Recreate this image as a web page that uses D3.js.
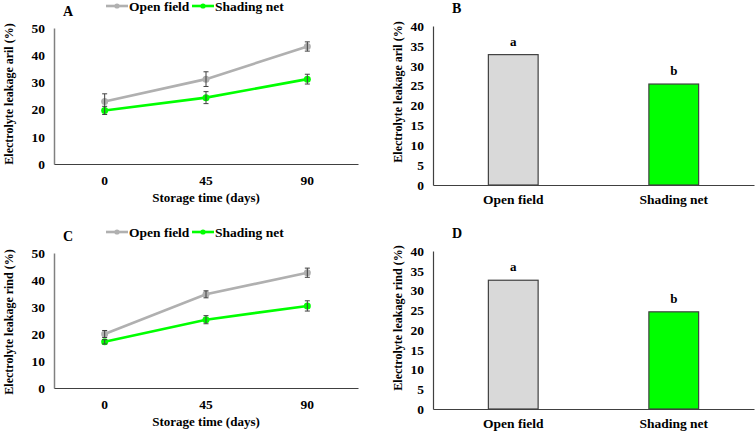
<!DOCTYPE html>
<html><head><meta charset="utf-8">
<script src="https://cdn.jsdelivr.net/npm/d3@7"></script>
<style>body{margin:0;background:#fff}svg{display:block}text{font-family:"Liberation Serif","Times New Roman",serif;font-weight:bold;fill:#000}</style>
</head><body>
<svg id="c" width="755" height="433"></svg>
<script>
// ---- data ----
const days = ["0", "45", "90"];
const seriesNames = ["Open field", "Shading net"];
const arilOpen = [23.0, 31.2, 43.2];
const arilOpenErr = [2.8, 2.7, 1.7];
const arilShade = [19.7, 24.4, 31.2];
const arilShadeErr = [1.5, 2.2, 1.8];
const rindOpen = [20.0, 34.7, 42.7];
const rindOpenErr = [1.3, 1.3, 1.7];
const rindShade = [17.1, 25.3, 30.4];
const rindShadeErr = [0.8, 1.5, 1.9];
const barCats = ["Open field", "Shading net"];
const arilMeans = [32.8, 25.4];
const rindMeans = [32.6, 24.6];
const barLetters = ["a", "b"];
const lineTicks = [0, 10, 20, 30, 40, 50];
const barTicks = [0, 5, 10, 15, 20, 25, 30, 35, 40];

const colors = ["#b0b0b0", "#00ff00"];
const barFills = ["#d9d9d9", "#00ff00"];
const svg = d3.select("#c");
const TF = "13.5px";

function styleTicks(sel) {
  sel.selectAll("text").style("font-size", TF).style("font-family", "Liberation Serif").style("font-weight", "bold");
}

function linePanel(cfg) {
  const g = svg.append("g");
  const x = d3.scaleBand().domain(days).range([cfg.x0, cfg.x1]);
  const y = d3.scaleLinear().domain([0, 50]).range([cfg.yb, cfg.yt]);
  const ya = g.append("g").attr("transform", `translate(${cfg.x0},0)`)
    .call(d3.axisLeft(y).tickValues(lineTicks).tickSize(0).tickPadding(9));
  ya.select(".domain").attr("stroke", "#808080").attr("stroke-width", 1.5);
  styleTicks(ya);
  const xa = g.append("g").attr("transform", `translate(0,${cfg.yb})`)
    .call(d3.axisBottom(x).tickSize(0).tickPadding(11));
  xa.select(".domain").attr("stroke", "#404040").attr("stroke-width", 1.2);
  styleTicks(xa);
  g.append("text").attr("x", (cfg.x0 + cfg.x1) / 2).attr("y", cfg.yb + 38)
    .attr("text-anchor", "middle").style("font-size", "13px").text("Storage time (days)");
  g.append("text").attr("transform", `translate(13,${cfg.ytc}) rotate(-90)`)
    .attr("text-anchor", "middle").style("font-size", "12px").text(cfg.ytitle);
  g.append("text").attr("x", 63).attr("y", cfg.yt - 12).style("font-size", "14px").text(cfg.letter);
  const sets = [[cfg.open, cfg.openErr], [cfg.shade, cfg.shadeErr]];
  const cx = d => x(d) + x.bandwidth() / 2;
  sets.forEach(([vals, errs], si) => {
    const line = d3.line().x((v, i) => cx(days[i])).y(v => y(v));
    g.append("path").attr("d", line(vals)).attr("fill", "none")
      .attr("stroke", colors[si]).attr("stroke-width", 2.6);
    vals.forEach((v, i) => {
      g.append("circle").attr("cx", cx(days[i])).attr("cy", y(v)).attr("r", 3.5).attr("fill", colors[si]);
    });
    vals.forEach((v, i) => {
      const xc = cx(days[i]);
      const eg = g.append("g").attr("stroke", "#404040").attr("stroke-width", 1);
      eg.append("line").attr("x1", xc).attr("x2", xc).attr("y1", y(v - errs[i])).attr("y2", y(v + errs[i]));
      [v - errs[i], v + errs[i]].forEach(e => eg.append("line").attr("x1", xc - 2.5).attr("x2", xc + 2.5).attr("y1", y(e)).attr("y2", y(e)));
    });
  });
  const ly = cfg.legY;
  const lx = [106, 192];
  seriesNames.forEach((n, i) => {
    g.append("line").attr("x1", lx[i]).attr("x2", lx[i] + 22).attr("y1", ly).attr("y2", ly)
      .attr("stroke", colors[i]).attr("stroke-width", 2.6);
    g.append("circle").attr("cx", lx[i] + 11).attr("cy", ly).attr("r", 2.6).attr("fill", colors[i]);
    g.append("text").attr("x", lx[i] + 23).attr("y", ly + 4.5).style("font-size", "13.5px").text(n);
  });
}

function barPanel(cfg) {
  const g = svg.append("g");
  const x = d3.scaleBand().domain(barCats).range([cfg.x0, cfg.x1]).paddingInner(0.69).paddingOuter(0.345);
  const y = d3.scaleLinear().domain([0, 40]).range([cfg.yb, cfg.yt]);
  const ya = g.append("g").attr("transform", `translate(${cfg.x0},0)`)
    .call(d3.axisLeft(y).tickValues(barTicks).tickSize(0).tickPadding(9));
  ya.select(".domain").attr("stroke", "#404040").attr("stroke-width", 1.2);
  styleTicks(ya);
  g.selectAll("rect.bar").data(cfg.vals).enter().append("rect")
    .attr("x", (d, i) => x(barCats[i])).attr("y", d => y(d))
    .attr("width", x.bandwidth()).attr("height", d => cfg.yb - y(d))
    .attr("fill", (d, i) => barFills[i]).attr("stroke", "#404040").attr("stroke-width", 1.2);
  const xa = g.append("g").attr("transform", `translate(0,${cfg.yb})`)
    .call(d3.axisBottom(x).tickSize(0).tickPadding(9));
  xa.select(".domain").attr("stroke", "#404040").attr("stroke-width", 1.2);
  styleTicks(xa);
  cfg.vals.forEach((v, i) => {
    g.append("text").attr("x", x(barCats[i]) + x.bandwidth() / 2).attr("y", y(v) - 9)
      .attr("text-anchor", "middle").style("font-size", "13px").text(barLetters[i]);
  });
  g.append("text").attr("transform", `translate(402,${cfg.ytc}) rotate(-90)`)
    .attr("text-anchor", "middle").style("font-size", "12px").text(cfg.ytitle);
  g.append("text").attr("x", 452).attr("y", cfg.yt - 13).style("font-size", "14px").text(cfg.letter);
}

linePanel({x0: 54, x1: 358, yt: 28, yb: 164, letter: "A", legY: 6, ytc: 94,
  ytitle: "Electrolyte leakage aril (%)", open: arilOpen, openErr: arilOpenErr, shade: arilShade, shadeErr: arilShadeErr});
linePanel({x0: 54, x1: 358, yt: 253, yb: 388, letter: "C", legY: 232, ytc: 322,
  ytitle: "Electrolyte leakage rind (%)", open: rindOpen, openErr: rindOpenErr, shade: rindShade, shadeErr: rindShadeErr});
barPanel({x0: 433, x1: 754, yt: 26, yb: 185, letter: "B", ytc: 92, ytitle: "Electrolyte leakage aril (%)", vals: arilMeans});
barPanel({x0: 433, x1: 754, yt: 251, yb: 409, letter: "D", ytc: 318, ytitle: "Electrolyte leakage rind (%)", vals: rindMeans});
</script>
</body></html>
